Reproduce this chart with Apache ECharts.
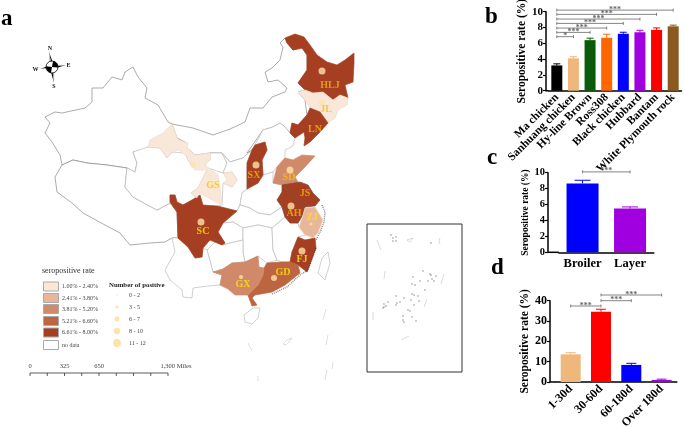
<!DOCTYPE html>
<html><head><meta charset="utf-8">
<style>html,body{margin:0;padding:0;background:#fff}#c{width:685px;height:427px}</style>
<script src="https://cdn.jsdelivr.net/npm/echarts@6/dist/echarts.min.js"></script>
</head><body><div id="c"></div>
<script>
// ---- bar chart data ----
const breedNames=['Ma chicken','Sanhuang chicken','Hy-line Brown','Ross308','Black chicken','Hubbard','Bantam','White Plymouth rock'];
const breedRates=[3.2,4.1,6.4,6.7,7.2,7.4,7.7,8.15];
const breedUpper=[3.4,4.3,6.65,7.15,7.4,7.65,7.95,8.3];
const breedBrackets=[[0,7,10.2,'***'],[0,6,9.66,'***'],[0,5,9.07,'***'],[0,4,8.52,'***'],[0,3,7.93,'***'],[0,2,7.38,'***'],[0,1,6.84,'*']];
const typeNames=['Broiler','Layer'];
const typeRates=[8.65,5.5];
const typeUpper=[9.05,5.7];
const typeBrackets=[[0,1,10.1,'***']];
const ageNames=['1-30d','30-60d','60-180d','Over 180d'];
const ageRates=[13.6,34.6,8.4,1.0];
const ageUpper=[14.4,35.8,9.2,1.4];
const ageBrackets=[[0,1,37.4,'***'],[1,2,40,'***'],[1,3,42.8,'***']];
// ---- map data: province shapes ----
const XJ=[45,117,55,112,62,113,85,108,92,102,92,88,103,88,112,77,122,80,125,72,133,67,138,77,147,88,145,98,158,105,168,122,172,124,175,128,177,138,160,148,148,147,148,149,133,152,137,163,135,172,127,168,107,165,87,163,73,160,62,165,60,155,52,142,45,133,50,123];
const XZ=[62,165,73,160,87,163,107,165,127,168,125,187,133,197,157,210,170,203,177,212,178,238,172,238,165,242,150,243,130,245,120,233,105,225,83,213,72,203,57,192,55,177];
const QH=[148,147,133,152,137,163,135,172,127,168,125,187,133,197,157,210,170,203,170,195,175,195,177,202,183,205,192,200,197,198,191,193,198,188,202,180,208,168,193,167,188,160,185,153,172,152,167,158,160,148];
const NM=[285,38,280,43,283,47,280,60,272,68,265,72,268,82,278,80,287,88,285,92,272,97,263,108,250,108,245,122,230,129,213,135,193,128,172,124,177,138,185,142,187,148,195,155,210,153,222,153,230,162,243,158,252,150,247,153,263,130,273,127,280,123,285,127,290,133,292,123,298,125,307,115,305,100,298,92,305,90,298,83,307,70,307,55,302,48,293,50,287,43];
const NX=[210,153,222,153,227,163,223,173,208,168,203,167,210,160];
const SN=[222,153,230,162,243,158,252,150,247,163,247,189,242,193,240,205,237,211,217,206,222,205,223,183,232,187,237,180,232,172,223,173,227,163];
const HEB=[252,150,263,130,273,127,280,123,285,127,290,133,295,138,293,146,285,150,285,158,277,167,273,172,263,175,262,160,267,150,265,142,255,145];
const HEN=[263,175,273,172,273,183,283,185,282,192,277,200,282,207,270,215,258,213,250,208,240,205,242,193,247,189,258,183];
const HUB=[237,211,240,205,250,208,258,213,270,215,282,207,285,217,272,228,258,225,243,228,233,222,223,223];
const CQ=[223,223,233,222,243,228,243,240,230,243,223,245,225,243,218,232];
const HUN=[243,228,258,225,272,228,273,250,277,260,267,263,258,256,245,262,243,253,243,240];
const JX=[272,228,285,217,290,223,298,223,299,227,305,235,298,237,292,252,290,262,282,262,277,260,273,250];
const GZ=[207,250,215,242,223,245,230,243,243,240,243,253,245,262,232,263,223,269,213,272];
const YN=[172,238,178,238,188,247,195,258,202,257,203,248,207,250,213,272,222,275,220,285,208,286,193,288,192,298,183,297,182,290,170,280,165,270,175,252];
const HI=[260,308,253,308,244,315,245,322,252,324,258,318];
const TW=[328,252,322,258,318,273,325,280,330,263];
const INSET=[367,224,462,224,462,372,367,372];
const HLJ=[285,38,295,34,304,37,310,45,317,55,327,62,337,65,345,60,354,53,354,63,353,82,345,85,348,98,340,95,333,100,323,92,313,93,305,90,298,83,307,70,307,55,302,48,293,50,287,43];
const JL=[298,92,305,90,313,93,323,92,333,100,340,95,348,98,347,105,338,110,335,118,328,123,320,112,310,108,305,100];
const LN=[310,108,320,112,328,123,320,132,310,142,304,146,305,138,304,132,295,138,290,133,292,123,298,125,307,115];
const SX=[255,145,265,142,267,150,262,160,263,175,258,183,247,189,247,163,252,150];
const SD=[285,158,293,160,302,155,315,156,305,167,295,177,298,182,283,185,273,183,277,167];
const JS=[282,185,300,182,308,185,313,193,320,200,315,206,305,207,298,200,290,192];
const AH=[282,185,290,192,298,200,305,207,303,215,298,223,290,223,285,217,282,207,277,200,282,192];
const ZJ=[305,208,315,207,323,220,318,233,313,238,305,235,299,227,303,215];
const FJ=[298,237,305,240,315,238,316,248,307,272,298,265,290,262,292,252];
const GD=[267,263,282,262,290,262,298,265,300,273,285,285,272,292,255,295,252,298,257,305,252,306,249,298,248,295,258,285,263,275,264,268];
const GX=[232,263,245,262,258,256,259,267,264,268,263,275,258,285,248,295,235,295,228,289,220,285,222,275,213,272,223,269];
const SC=[170,195,175,195,177,202,183,205,192,200,200,195,203,205,217,206,237,211,223,223,218,232,225,243,222,245,210,240,203,248,202,257,195,258,188,247,178,238,177,212,170,202];
const GS=[172,124,178,140,188,143,187,148,195,155,210,153,210,160,205,165,218,175,220,187,222,205,212,200,203,195,198,193,197,198,191,193,198,188,202,180,207,170,195,170,188,157,178,150,172,152,167,158,160,148,148,147,150,140,163,133];
const GSE=[223,173,232,172,237,180,232,187,223,183,227,180];
const rateColors={nodata:'#ffffff',c1:'#f9e8d8',c2:'#e8b79a',c3:'#d08a6a',c4:'#bd6440',c5:'#a63f22'};
const shapes=[['XJ',XJ,'nodata'],['XZ',XZ,'nodata'],['QH',QH,'nodata'],['NM',NM,'nodata'],['NX',NX,'nodata'],['SN',SN,'nodata'],['HEB',HEB,'nodata'],['HEN',HEN,'nodata'],['HUB',HUB,'nodata'],['CQ',CQ,'nodata'],['HUN',HUN,'nodata'],['JX',JX,'nodata'],['GZ',GZ,'nodata'],['YN',YN,'nodata'],['HI',HI,'nodata'],['TW',TW,'nodata'],['INSET',INSET,'nodata'],
 ['HLJ',HLJ,'c5'],['JL',JL,'c1'],['LN',LN,'c5'],['SX',SX,'c5'],['SD',SD,'c3'],['JS',JS,'c5'],['AH',AH,'c5'],['ZJ',ZJ,'c2'],['FJ',FJ,'c5'],['GD',GD,'c4'],['GX',GX,'c3'],['SC',SC,'c5'],['GS',GS,'c1'],['GSE',GSE,'c1']];
const positives=[[322,71,7],[322,103,6],[256,165,7],[290,170,7],[291,206,7],[201,222,7],[193,165,6],[311,224,3],[302,251,7],[274,278,6],[241,277,4]];
const provinceLabels=[['HLJ',330,85,'#f5b400'],['JL',326,109,'#f5c400'],['LN',315,129,'#f5b400'],['SX',254,175,'#f5b400'],['SD',289,177,'#f5c400'],['JS',305,193,'#f5b400'],['AH',294,213,'#f5b400'],['GS',213,185,'#f5c400'],['SC',203,231,'#ffe600'],['ZJ',312,217,'#ffe600'],['FJ',302,259,'#ffe600'],['GD',283,272,'#ffe600'],['GX',243,284,'#ffe600']];
const coastLines=[[322,205,325,212,324,222,320,232,316,240],[316,248,308,270,300,275,287,287,272,294]];
const seaLines=[[248,343,252,351],[326,309,323,320],[328,335,326,345],[333,362,332,369],[327,370,325,380],[258,376,258,381],[286,345,289,342,292,338,287,340,283,344,286,345]];
const insetLines=[[377,240,381,250],[385,271,384,279],[373,312,373,320],[401,340,409,336],[440,244,439,241,440,238],[444,274,441,284],[427,299,424,307],[407,240,410,239,413,238,410,242,407,240]];
const insetDots=[[391,235],[393,238],[396,237],[393,241],[396,241],[431,243],[412,317],[416,321],[431,275],[432,279],[423,271],[430,274],[436,276],[434,281],[428,281],[413,277],[412,284],[415,285],[420,281],[414,295],[404,298],[400,302],[396,296],[412,294],[419,301],[411,300],[408,310],[384,304],[386,306],[388,302],[384,307],[383,308],[396,305],[397,303],[403,316],[403,320],[404,322],[410,311],[414,305],[418,296],[425,290]];
const rateLegend=['1.00% - 2.40%','2.41% - 3.80%','3.81% - 5.20%','5.21% - 6.60%','6.61% - 8.00%','no data'];
const positiveLegend=['0 - 2','3 - 5','6 - 7','8 - 10','11 - 12'];
const scaleLabels=['0','325','650','1,300 Miles'];
// ---- colours ----
const breedColors=['#000000','#f0b77c','#0a5c0a','#ff6600','#0000ff','#a000e0','#ff0000','#8b5a1e'];
const typeColors=['#0000ff','#a000e0'];
const ageColors=['#f0b77c','#ff0000','#0000ff','#a000e0'];
const serif='"Liberation Serif","Times New Roman",serif';

const pts=a=>{const r=[];for(let i=0;i<a.length;i+=2)r.push([a[i],-a[i+1]]);return r;};
const geoJson={type:'FeatureCollection',features:shapes.map(([n,a])=>{const p=pts(a);p.push(p[0]);return{type:'Feature',properties:{name:n},geometry:{type:'Polygon',coordinates:[p]}};})};
echarts.registerMap('cn',geoJson);
let minX=1e9,maxX=-1e9,minY=1e9,maxY=-1e9;
shapes.forEach(([,a])=>{for(let i=0;i<a.length;i+=2){minX=Math.min(minX,a[i]);maxX=Math.max(maxX,a[i]);minY=Math.min(minY,a[i+1]);maxY=Math.max(maxY,a[i+1]);}});
const whiteEdge=new Set(['XJ','XZ','QH','NM','NX','SN','HEB','HEN','HUB','CQ','HUN','JX','GZ','YN','HI','TW']);
const regions=shapes.map(([n,,c])=>({name:n,itemStyle:{areaColor:rateColors[c],
  borderColor:n==='INSET'?'#333':(n==='XJ'||n==='XZ'||n==='NM'?'#888':(whiteEdge.has(n)?'#bbb':(c==='c1'||c==='c2'?'#ecdccd':(n==='JS'||n==='AH'?'#7a4a38':rateColors[c])))),
  borderWidth:n==='INSET'?1:0.7}}));

function grid(l,t,w,h){return{left:l,top:t,width:w,height:h,containLabel:false,outerBoundsMode:'none'};}
function xAx(i,names,rot,fs){return{gridIndex:i,type:'category',data:names,axisLine:{lineStyle:{color:'#000',width:1.5}},axisTick:{alignWithLabel:true,length:3,lineStyle:{color:'#000',width:1.2}},
  axisLabel:{rotate:rot,interval:0,color:'#000',fontFamily:serif,fontWeight:'bold',fontSize:fs,margin:rot?5:5}};}
function yAx(i,max,intv,off,gap,fs,nfs){return{gridIndex:i,type:'value',min:0,max:max,interval:intv,offset:off,splitLine:{show:false},
  axisLine:{show:true,lineStyle:{color:'#000',width:1.5}},axisTick:{show:true,length:3,lineStyle:{color:'#000',width:1.2}},
  axisLabel:{color:'#000',fontFamily:serif,fontWeight:'bold',fontSize:fs,margin:3},
  name:'Seropositive rate (%)',nameLocation:'middle',nameRotate:90,nameGap:gap,nameTextStyle:{color:'#000',fontFamily:serif,fontWeight:'bold',fontSize:nfs}};}
function bar(i,vals,cols,w){return{type:'bar',xAxisIndex:i,yAxisIndex:i,barWidth:w,z:3,silent:true,
  data:vals.map((v,k)=>({value:v,itemStyle:{color:cols[k]}}))};}
function err(i,vals,up,cols,cap){return{type:'custom',xAxisIndex:i,yAxisIndex:i,z:2,silent:true,
  data:vals.map((v,k)=>[k,v,up[k]]),
  renderItem:(p,api)=>{const a=api.coord([api.value(0),api.value(1)]),b=api.coord([api.value(0),api.value(2)]);
    const st={stroke:cols[api.value(0)],lineWidth:1};
    return{type:'group',children:[{type:'line',shape:{x1:a[0],y1:a[1],x2:b[0],y2:b[1]},style:st},{type:'line',shape:{x1:b[0]-cap,y1:b[1],x2:b[0]+cap,y2:b[1]},style:st}]};}};}
function brk(i,list,fs){return{type:'custom',xAxisIndex:i,yAxisIndex:i,z:4,silent:true,
  data:list,dimensions:['a','b','v',{name:'t',type:'ordinal'}],
  renderItem:(p,api)=>{const d=list[p.dataIndex];const a=api.coord([d[0],d[2]]),b=api.coord([d[1],d[2]]);
    const st={stroke:'#666',lineWidth:0.8};
    return{type:'group',children:[
      {type:'line',shape:{x1:a[0],y1:a[1],x2:b[0],y2:a[1]},style:st},
      {type:'line',shape:{x1:a[0],y1:a[1]-1.5,x2:a[0],y2:a[1]+1.5},style:st},
      {type:'line',shape:{x1:b[0],y1:a[1]-1.5,x2:b[0],y2:a[1]+1.5},style:st},
      {type:'text',style:{x:(a[0]+b[0])/2,y:a[1]-0.5,text:d[3],fill:'#666',font:'bold '+fs+'px '+serif,textAlign:'center',textVerticalAlign:'middle'}}
    ]};}};}

// ---- drawn furniture ----
const g=[];
const T=(x,y,t,font,fill,al)=>g.push({type:'text',x:x,y:y,style:{text:t,font:font,fill:fill||'#000',textAlign:al||'left',textVerticalAlign:'middle'}});
[['a',1,19.5],['b',485,17.5],['c',487,158.5],['d',491,268.5]].forEach(([t,x,y])=>T(x,y,t,'bold 23px '+serif));
// rate legend
T(42,271,'seropositive rate','8px '+serif,'#333');
const swY=[286.5,298,309,321,332.5,345];
const swC=['c1','c2','c3','c4','c5','nodata'];
rateLegend.forEach((t,i)=>{g.push({type:'rect',shape:{x:43.5,y:swY[i]-4.5,width:15,height:9},style:{fill:rateColors[swC[i]],stroke:'#aaa',lineWidth:1}});
  T(62,swY[i],t,'6px '+serif,'#444');});
T(109,285,'Number of positive','bold 6.8px '+serif,'#222');
const szY=[295,307,319,331,343],szR=[0.7,1.5,2.4,3.2,3.9];
positiveLegend.forEach((t,i)=>{g.push({type:'circle',shape:{cx:117,cy:szY[i],r:szR[i]},style:{fill:'#fde3a7'}});T(129,szY[i],t,'6px '+serif,'#444');});
// scale bar
[[30,0],[64.5,1],[99,2],[176,3]].forEach(([x,i])=>T(x,366,scaleLabels[i],'6.5px '+serif,'#444','center'));
g.push({type:'line',shape:{x1:30,y1:373,x2:168,y2:373},style:{stroke:'#333',lineWidth:0.8}});
for(let k=0;k<=8;k++){const x=30+k*17.25;g.push({type:'line',shape:{x1:x,y1:373,x2:x,y2:376},style:{stroke:'#333',lineWidth:0.8}});}
// compass
const cx=52,cy=67;
[[49,52],[66,65],[54,83],[40,69]].forEach((p,i)=>{
  const dx=p[0]-cx,dy=p[1]-cy,l=Math.hypot(dx,dy),nx=-dy/l*2.3,ny=dx/l*2.3;
  g.push({type:'polygon',shape:{points:[[cx,cy],[cx+nx,cy+ny],p]},style:{fill:'#000'}});
  g.push({type:'polygon',shape:{points:[[cx,cy],[cx-nx,cy-ny],p]},style:{fill:'#aaa'}});});
g.push({type:'circle',shape:{cx:cx,cy:cy,r:6},style:{fill:'#fff',stroke:'#000',lineWidth:0.8}});
g.push({type:'sector',shape:{cx:cx,cy:cy,r:6,startAngle:-1.4,endAngle:0.1},style:{fill:'#000'}});
g.push({type:'sector',shape:{cx:cx,cy:cy,r:6,startAngle:1.75,endAngle:3.25},style:{fill:'#000'}});
[['N',50,48],['S',54,86],['W',35.5,69],['E',68.5,65]].forEach(([t,x,y])=>T(x,y,t,'bold 6px '+serif,'#111','center'));
// axis stubs where the x axis reaches the offset y axis
[[546,548.5,90.7],[548,558.8,252.3],[550,555.5,382]].forEach(([a,b,y])=>g.push({type:'line',z:5,shape:{x1:a,y1:y,x2:b,y2:y},style:{stroke:'#000',lineWidth:1.5}}));

const opt={animation:false,backgroundColor:'#fff',
 geo:{map:'cn',roam:false,silent:true,aspectScale:1,left:minX,top:minY,width:maxX-minX,height:maxY-minY,label:{show:false},regions:regions,
   itemStyle:{areaColor:'#fff',borderColor:'#aaa',borderWidth:0.7},emphasis:{disabled:true},select:{disabled:true}},
 grid:[grid(548.5,11.7,133,79),grid(558.8,172.7,95,79.6),grid(555.5,300.7,121.3,81.3)],
 xAxis:[xAx(0,breedNames,45,11.5),xAx(1,typeNames,0,12.5),xAx(2,ageNames,45,12)],
 yAxis:[yAx(0,10,2,2.5,17,11,11.5),yAx(1,10,2,10.8,15,10.5,9.5),yAx(2,40,10,5.5,16,12,11.5)],
 graphic:g,
 series:[
  bar(0,breedRates,breedColors,11),err(0,breedRates,breedUpper,breedColors,3.5),brk(0,breedBrackets,8),
  bar(1,typeRates,typeColors,32),err(1,typeRates,typeUpper,typeColors,8),brk(1,typeBrackets,8),
  bar(2,ageRates,ageColors,20),err(2,ageRates,ageUpper,ageColors,5),brk(2,ageBrackets,8),
  {type:'lines',coordinateSystem:'geo',polyline:true,silent:true,lineStyle:{color:'#111',width:1.4,type:[1,1]},data:coastLines.map(a=>({coords:pts(a)}))},
  {type:'lines',coordinateSystem:'geo',polyline:true,silent:true,lineStyle:{color:'#aaa',width:0.8},data:seaLines.map(a=>({coords:pts(a)}))},
  {type:'lines',coordinateSystem:'geo',polyline:true,silent:true,lineStyle:{color:'#999',width:0.7},data:insetLines.map(a=>({coords:pts(a)}))},
  {type:'scatter',coordinateSystem:'geo',silent:true,symbolSize:1.3,itemStyle:{color:'#555'},data:insetDots.map(p=>[p[0],-p[1]])},
  {type:'scatter',coordinateSystem:'geo',silent:true,z:5,itemStyle:{color:'#fde3a7'},symbolSize:d=>d[2],data:positives.map(p=>[p[0],-p[1],p[2]])},
  {type:'scatter',coordinateSystem:'geo',silent:true,z:6,symbolSize:0,data:provinceLabels.map(p=>({value:[p[1],-p[2]],label:{show:true,position:'inside',formatter:p[0],color:p[3],fontFamily:serif,fontWeight:'bold',fontSize:10}}))}
 ]};
echarts.init(document.getElementById('c'),null,{renderer:'canvas'}).setOption(opt);
</script></body></html>
